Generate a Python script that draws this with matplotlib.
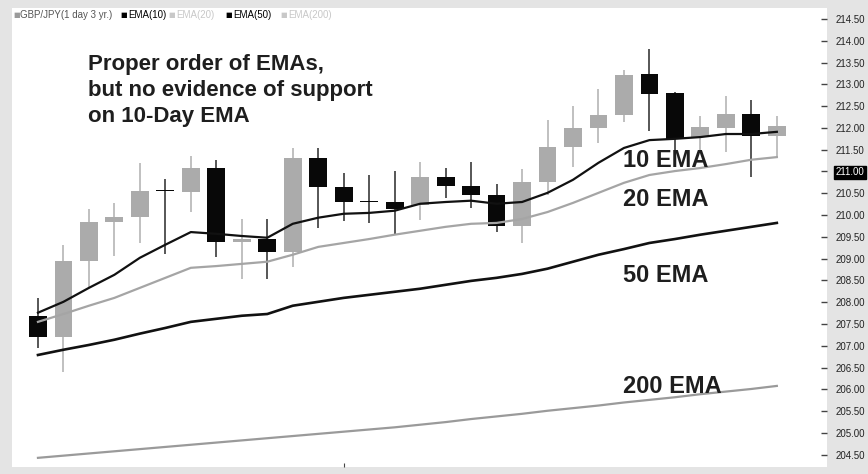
import numpy as np
import matplotlib
matplotlib.use("Agg")
import matplotlib.pyplot as plt

plt.rcParams['font.family'] = ['Liberation Sans', 'DejaVu Sans']

# daily candles, GBP/JPY
opens = [207.69, 207.21, 208.95, 209.84, 209.96, 210.58, 210.53, 211.08, 209.39, 209.45,
         209.16, 211.31, 210.65, 210.31, 210.30, 210.23, 210.88, 210.67, 210.46, 209.75,
         210.76, 211.56, 212.00, 212.30, 213.24, 212.80, 211.79, 212.00, 212.32, 211.82]
highs = [208.10, 209.32, 210.14, 210.28, 211.20, 210.83, 211.36, 211.27, 209.91, 209.91,
         211.54, 211.54, 210.97, 210.92, 211.01, 211.22, 211.08, 211.22, 210.72, 211.06,
         212.18, 212.50, 212.89, 213.33, 213.81, 212.83, 212.28, 212.73, 212.64, 212.28]
lows = [206.95, 206.40, 208.35, 209.06, 209.36, 209.11, 210.07, 209.04, 208.54, 208.54,
        208.81, 209.71, 209.87, 209.82, 209.57, 209.89, 210.39, 210.17, 209.61, 209.36,
        210.46, 211.11, 211.66, 212.14, 211.93, 211.50, 211.50, 211.45, 210.88, 211.33]
closes = [207.21, 208.95, 209.84, 209.96, 210.56, 210.55, 211.08, 209.39, 209.45, 209.16,
          211.31, 210.65, 210.30, 210.29, 210.14, 210.88, 210.67, 210.46, 209.75, 210.76,
          211.56, 212.00, 212.30, 213.22, 212.78, 211.75, 212.02, 212.32, 211.82, 212.05]

ema10 = [207.76, 208.01, 208.33, 208.63, 209.02, 209.32, 209.61, 209.57, 209.52, 209.48,
         209.80, 209.94, 210.03, 210.05, 210.10, 210.26, 210.30, 210.33, 210.26, 210.30,
         210.51, 210.81, 211.20, 211.54, 211.72, 211.75, 211.79, 211.86, 211.86, 211.91]
ema20 = [207.55, 207.73, 207.92, 208.10, 208.33, 208.56, 208.79, 208.83, 208.88, 208.93,
         209.09, 209.27, 209.36, 209.45, 209.55, 209.64, 209.73, 209.80, 209.82, 209.91,
         210.07, 210.28, 210.51, 210.74, 210.92, 211.01, 211.08, 211.17, 211.27, 211.33]
ema50 = [206.79, 206.91, 207.02, 207.14, 207.28, 207.41, 207.55, 207.62, 207.69, 207.73,
         207.92, 208.01, 208.10, 208.17, 208.24, 208.31, 208.40, 208.49, 208.56, 208.65,
         208.77, 208.93, 209.09, 209.22, 209.36, 209.45, 209.55, 209.64, 209.73, 209.82]
ema200 = [204.43, 204.48, 204.53, 204.58, 204.63, 204.68, 204.73, 204.78, 204.83, 204.88,
          204.93, 204.98, 205.03, 205.08, 205.13, 205.19, 205.25, 205.32, 205.38, 205.44,
          205.51, 205.57, 205.63, 205.70, 205.76, 205.82, 205.89, 205.95, 206.01, 206.08]

yticks = [204.5 + 0.5 * k for k in range(21)]
last_price = 211.00

fig = plt.figure(figsize=(8.68, 4.74), dpi=100, facecolor='#e4e4e4')
ax = fig.add_axes([0.0138, 0.0148, 0.9390, 0.9682])
ax.set_facecolor('white')

x = np.arange(len(opens))
o = np.array(opens)
c = np.array(closes)
up = c >= o
body_bottom = np.minimum(o, c)
body_h = np.maximum(np.abs(c - o), 0.03)

# wicks
ax.vlines(x[up], np.array(lows)[up], np.array(highs)[up], color='#b5b5b5', lw=1.2, zorder=2)
ax.vlines(x[~up], np.array(lows)[~up], np.array(highs)[~up], color='#3a3a3a', lw=1.2, zorder=2)
# bodies
ax.bar(x[up], body_h[up], bottom=body_bottom[up], width=0.7, color='#ababab', zorder=3)
ax.bar(x[~up], body_h[~up], bottom=body_bottom[~up], width=0.7, color='#080808', zorder=3)

ax.plot(x, ema200, color='#9a9a9a', lw=1.6, zorder=4)
ax.plot(x, ema50, color='#111111', lw=1.9, zorder=4)
ax.plot(x, ema20, color='#a5a5a5', lw=1.6, zorder=4)
ax.plot(x, ema10, color='#111111', lw=1.6, zorder=4)

ax.set_xlim(-1.02, 30.97)
ax.set_ylim(204.22, 214.75)
for s in ax.spines.values():
    s.set_visible(False)

ax.yaxis.tick_right()
ax.set_yticks(yticks)
ax.set_yticklabels([f"{v:.2f}" for v in yticks])
ax.tick_params(axis='y', direction='in', length=4, width=1, color='#444444',
               pad=6, labelsize=7, labelcolor='#222222')
for lab, v in zip(ax.get_yticklabels(), yticks):
    if abs(v - last_price) < 1e-6:
        lab.set_color('white')
        lab.set_bbox(dict(facecolor='black', edgecolor='black', pad=1.2))

ax.set_xticks([12])
ax.set_xticklabels([''])
ax.tick_params(axis='x', direction='in', length=3, color='#444444')

# annotations
txt = dict(fontweight='bold', color='#1e1e1e', zorder=6, ha='left', va='baseline')
ax.text(1.96, 213.33, "Proper order of EMAs,", fontsize=16, **txt)
ax.text(1.96, 212.73, "but no evidence of support", fontsize=16, **txt)
ax.text(1.96, 212.14, "on 10-Day EMA", fontsize=16, **txt)
ax.text(22.96, 211.11, "10 EMA", fontsize=17, **txt)
ax.text(22.96, 210.21, "20 EMA", fontsize=17, **txt)
ax.text(22.96, 208.47, "50 EMA", fontsize=17, **txt)
ax.text(22.96, 205.92, "200 EMA", fontsize=17, **txt)

# legend strip at the top: (name, square colour, text colour, square px, text px)
legend_items = [("GBP/JPY(1 day 3 yr.)", '#9a9a9a', '#555555', 13, 20),
                ("EMA(10)", '#000000', '#000000', 120, 128),
                ("EMA(20)", '#c8c8c8', '#c8c8c8', 168, 176),
                ("EMA(50)", '#000000', '#000000', 225, 233),
                ("EMA(200)", '#c8c8c8', '#c8c8c8', 280, 288)]
for name, mcol, tcol, sx, tx in legend_items:
    fig.text(sx / 868, 1 - 15 / 474, "\u25A0", color=mcol, fontsize=5,
             va='center', ha='left', family='DejaVu Sans')
    fig.text(tx / 868, 1 - 15 / 474, name, color=tcol, fontsize=7,
             va='center', ha='left')

fig.savefig("out.png", dpi=100, facecolor=fig.get_facecolor())
